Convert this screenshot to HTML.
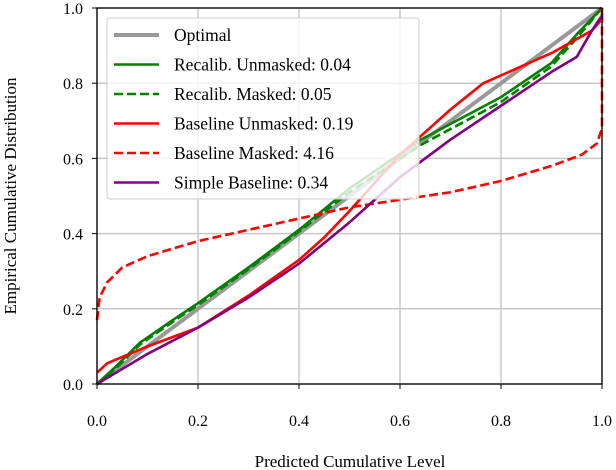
<!DOCTYPE html>
<html><head><meta charset="utf-8"><style>
body{margin:0;background:#fff}
svg{display:block;font-family:"Liberation Serif",serif}
</style></head><body>
<svg id="chart" width="616" height="470">
<g id="grid"></g>
<g id="series"></g>
<rect x="97" y="8" width="505" height="376" fill="none" stroke="#000" stroke-width="1.3"/>
<g id="ticks"></g>
<text x="350" y="467" font-size="17" text-anchor="middle">Predicted Cumulative Level</text>
<text transform="translate(16,196) rotate(-90)" font-size="17" text-anchor="middle">Empirical Cumulative Distribution</text>
<g id="legend"></g>
</svg>
<script>
const ticks=[0,0.2,0.4,0.6,0.8,1.0];
const tickLabels=["0.0","0.2","0.4","0.6","0.8","1.0"];
const names=["Optimal","Recalib. Unmasked: 0.04","Recalib. Masked: 0.05","Baseline Unmasked: 0.19","Baseline Masked: 4.16","Simple Baseline: 0.34"];
const optimalX=[0,1];
const optimalY=[0,1];
const recalUnX=[0,0.04,0.085,0.15,0.2,0.3,0.4,0.5,0.64,0.8,0.9,0.95,1];
const recalUnY=[0,0.05,0.11,0.17,0.215,0.31,0.41,0.52,0.649,0.763,0.854,0.93,1];
const recalMaX=[0,0.04,0.085,0.15,0.2,0.3,0.4,0.5,0.64,0.8,0.9,0.95,1];
const recalMaY=[0,0.045,0.105,0.165,0.21,0.305,0.405,0.51,0.635,0.75,0.845,0.92,1];
const baseUnX=[0,0.02,0.1,0.2,0.3,0.4,0.45,0.5,0.56,0.6,0.7,0.765,0.9,0.98,1,1];
const baseUnY=[0.03,0.055,0.1,0.15,0.235,0.33,0.39,0.46,0.55,0.61,0.73,0.8,0.88,0.94,0.97,1];
const baseMaX=[0,0.005,0.02,0.05,0.1,0.2,0.3,0.4,0.5,0.6,0.7,0.8,0.9,0.96,0.99,1,1,1];
const baseMaY=[0.17,0.23,0.27,0.31,0.34,0.38,0.41,0.44,0.47,0.49,0.51,0.54,0.58,0.61,0.64,0.68,0.95,1];
const simpleX=[0,0.1,0.2,0.3,0.4,0.5,0.6,0.7,0.8,0.9,0.95,0.98,1];
const simpleY=[0,0.08,0.15,0.23,0.32,0.43,0.55,0.65,0.74,0.83,0.87,0.94,0.98];
const sx=v=>97+v*505, sy=v=>384-v*376;
const NS="http://www.w3.org/2000/svg";
function mk(t,a,p){const e=document.createElementNS(NS,t);for(const k in a)e.setAttribute(k,a[k]);p.appendChild(e);return e;}
const grid=document.getElementById('grid'),tk=document.getElementById('ticks');
ticks.forEach((t,i)=>{
 let g=mk('line',{x1:sx(t),x2:sx(t),y1:8,y2:384,stroke:'#c8c8c8','stroke-width':1.5},grid);
 
 
 g=mk('line',{x1:97,x2:602,y1:sy(t),y2:sy(t),stroke:'#c8c8c8','stroke-width':1.5},grid);
 
 
 mk('line',{x1:sx(t),x2:sx(t),y1:384,y2:389,stroke:'#000'},tk);
 mk('line',{x1:92,x2:97,y1:sy(t),y2:sy(t),stroke:'#000'},tk);
 let l=mk('text',{x:sx(t),y:426,'font-size':16,'text-anchor':'middle'},tk);l.textContent=tickLabels[i];
 
 
 l=mk('text',{x:83,y:sy(t)+6,'font-size':16,'text-anchor':'end'},tk);l.textContent=tickLabels[i];
 
 
});
const styles=[
 {xs:optimalX,ys:optimalY,c:'#999',w:4,d:'',n:'optimal-line'},
 {xs:recalUnX,ys:recalUnY,c:'#008000',w:2.6,d:'',n:'recalib-unmasked-line'},
 {xs:recalMaX,ys:recalMaY,c:'#008000',w:2.6,d:'9,4',n:'recalib-masked-line'},
 {xs:baseUnX,ys:baseUnY,c:'#ff0000',w:2.6,d:'',n:'baseline-unmasked-line'},
 {xs:baseMaX,ys:baseMaY,c:'#ff0000',w:2.6,d:'9,4',n:'baseline-masked-line'},
 {xs:simpleX,ys:simpleY,c:'#800080',w:2.6,d:'',n:'simple-baseline-line'}];
const sg=document.getElementById('series');
styles.forEach(s=>{
 const p=mk('polyline',{points:s.xs.map((x,i)=>sx(x)+','+sy(s.ys[i])).join(' '),fill:'none',stroke:s.c,'stroke-width':s.w,'stroke-dasharray':s.d,'stroke-linejoin':'round'},sg);
 
 
});
const lg=document.getElementById('legend');
mk('rect',{x:107,y:18,width:312,height:181,rx:3,fill:'rgba(255,255,255,0.8)',stroke:'#ccc','stroke-width':1},lg);
styles.forEach((s,i)=>{
 const y=35+i*29.5;
 mk('line',{x1:114,x2:159,y1:y,y2:y,stroke:s.c,'stroke-width':s.w,'stroke-dasharray':s.d},lg);
 const t=mk('text',{x:174,y:y+6,'font-size':17.5},lg);t.textContent=names[i];
 
 
});
</script>
</body></html>
